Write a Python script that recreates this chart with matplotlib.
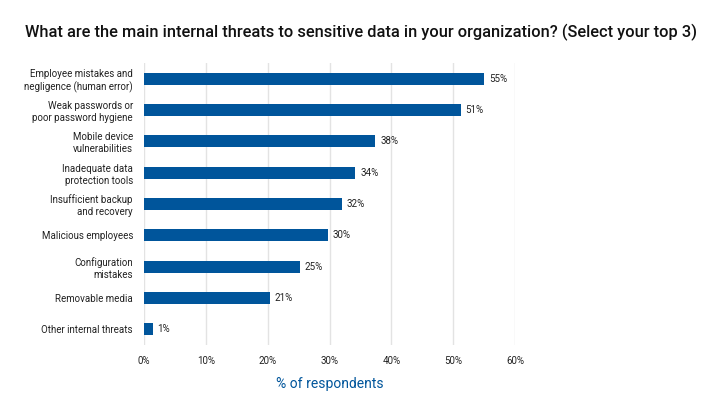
import matplotlib.pyplot as plt

# Datos de la encuesta
categorias = [
    'Employee mistakes and\nnegligence (human error)',
    'Weak passwords or\npoor password hygiene',
    'Mobile device\nvulnerabilities',
    'Inadequate data\nprotection tools',
    'Insufficient backup\nand recovery',
    'Malicious employees',
    'Configuration\nmistakes',
    'Removable media',
    'Other internal threats',
]
valores = [55.0, 51.2, 37.4, 34.2, 32.0, 29.7, 25.2, 20.3, 1.4]
etiquetas = ['55%', '51%', '38%', '34%', '32%', '30%', '25%', '21%', '1%']
ticks_x = [0, 10, 20, 30, 40, 50, 60]

azul = '#00559b'

plt.rcParams['font.family'] = ['Roboto', 'DejaVu Sans']

fig = plt.figure(figsize=(7.28, 4.11), dpi=100)
ax = fig.add_axes([144 / 728, 1 - 345 / 411, (515 - 144) / 728, (345 - 63) / 411])

pos = list(range(len(categorias)))
ax.barh(pos, valores, height=0.39, color=azul, zorder=3)
for p, v, t in zip(pos, valores, etiquetas):
    ax.text(v + 0.8, p, t, va='center', ha='left', fontsize=7, color='#222222')

ax.set_xlim(0, 60)
ax.set_ylim(len(categorias) - 0.5, -0.5)
ax.set_yticks(pos)
ax.set_yticklabels(categorias, fontsize=7, color='#222222', linespacing=1.25)
ax.set_xticks(ticks_x)
ax.set_xticklabels([f'{t}%' for t in ticks_x], fontsize=7, color='#222222')
ax.tick_params(length=0)
ax.tick_params(axis='y', pad=8)
ax.tick_params(axis='x', pad=8)
ax.grid(axis='x', color='#e3e3e3', linewidth=1, zorder=0)
for s in ax.spines.values():
    s.set_visible(False)

ax.set_xlabel('% of respondents', fontsize=10, color=azul, labelpad=8)
fig.text(25 / 728, 1 - 32 / 411, 'What are the main internal threats to sensitive data in your organization? (Select your top 3)',
         fontsize=11.75, fontweight='medium', va='center', ha='left', color='#111111')

fig.savefig('out.png', dpi=100)
